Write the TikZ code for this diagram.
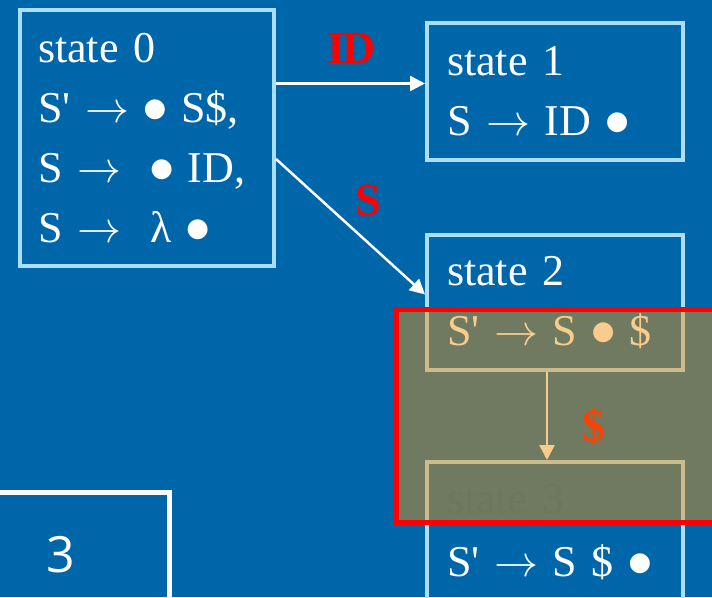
\documentclass[tikz,border=0pt]{standalone}
\usepackage{fix-cm}
\usepackage{fontspec}
\setmainfont{Liberation Serif}
\newfontfamily\numfont{Open Sans}
\newfontfamily\dotfont{DejaVu Sans}
\usetikzlibrary{arrows.meta,calc,positioning}
\definecolor{slidebg}{RGB}{0,102,170}
\definecolor{boxedge}{RGB}{172,222,250}
\definecolor{hilite}{RGB}{243,146,9}
\newcommand{\pr}{\textquotesingle}
\newcommand{\goesto}{$\rightarrow$}
\newcommand{\itemdot}{\raisebox{6pt}{\dotfont\fontsize{26}{26}\selectfont ●}}

\begin{document}
\begin{tikzpicture}[x=1pt,y=-1pt,
		statebox/.style={draw=boxedge,line width=4pt,text=white,align=left,inner sep=0pt,
			font=\fontsize{44}{60}\selectfont},
		trans/.style={draw=white,line width=2.5pt,-{Triangle[length=15pt,width=15pt]}},
		symlabel/.style={text=red,font=\fontsize{46}{50}\selectfont\bfseries}]
		\fill[slidebg] (0,0) rectangle (712,597);
		\useasboundingbox (0,0) rectangle (712,597);
		\clip (0,0) rectangle (712,597);
		% item sets
		\node[statebox,minimum width=254,minimum height=256,text width=218] (s0) at (147,138)
			{state 0\\S\pr{} \goesto{} \itemdot{} S\$,\\S \goesto{} \ \itemdot{} ID,\\S \goesto{} \ λ \itemdot};
		\node[statebox,minimum width=256,minimum height=137,text width=216] (s1) at (555,91.5)
			{state 1\\S \goesto{} ID \itemdot};
		\node[statebox,minimum width=256,minimum height=135,text width=216] (s2) at (555,302.5)
			{state 2\\S\pr{} \goesto{} S \itemdot{} \$};
		\node[statebox,minimum width=256,minimum height=140,text width=216] (s3) at (555,532)
			{\textcolor{slidebg!94!black}{state 3}\\[3pt]S\pr{} \goesto{} S \$ \itemdot};
		% transitions
		\draw[trans] ([yshift=8]s1.west -| s0.east) -- ([yshift=8]s1.west);
		\draw[trans] ([yshift=-21]s0.east) -- ([yshift=8]s2.west);
		\draw[trans] ([xshift=-8]s2.south) -- ([xshift=-8]s3.north);
		\node[symlabel] (lid) at (352,48) {I\kern-3ptD};
		\node[symlabel] (ls) at (368,200) {S};
		\node[symlabel] (ldol) at (594,427) {\$};
		% slide number
		\node[draw=white,line width=5pt,minimum width=217,minimum height=126,text=white,
			font=\numfont\fontsize{50}{50}\selectfont] (num) at (61,555) {3};
		% highlight
		\draw[red,line width=5pt,fill=hilite,fill opacity=0.46] (396.5,309.5) rectangle (740,522);
\end{tikzpicture}
\end{document}
